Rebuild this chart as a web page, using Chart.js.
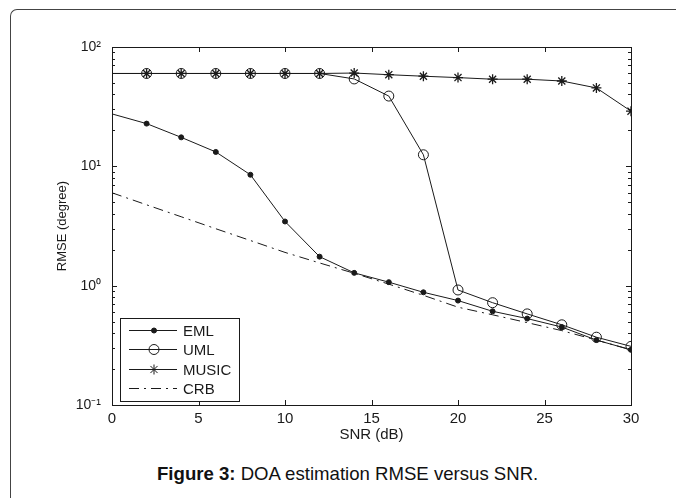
<!DOCTYPE html>
<html>
<head>
<meta charset="utf-8">
<script src="https://cdn.jsdelivr.net/npm/chart.js@4.4.1/dist/chart.umd.min.js"></script>
<style>
  html, body { margin: 0; padding: 0; background: #fff; }
  #wrap { position: relative; width: 676px; height: 498px; overflow: hidden; }
  #frame {
    position: absolute; left: 10px; top: 9px; width: 700px; height: 520px;
    border-left: 1.5px solid #444; border-top: 1.5px solid #444;
    border-top-left-radius: 7px;
  }
  #chart1 { position: absolute; left: 0; top: 0; }
  #caption {
    position: absolute; left: 157px; top: 463px; white-space: nowrap;
    font-family: 'Liberation Sans', Arial, sans-serif; font-size: 18.6px; color: #111;
  }
</style>
</head>
<body>
<div id="wrap">
  <div id="frame"></div>
  <canvas id="chart1" width="676" height="455"></canvas>
  <div id="caption"><b>Figure 3:</b> DOA estimation RMSE versus SNR.</div>
</div>
<script>
/* ===============================
   data
================================ */
const snr = [0, 2, 4, 6, 8, 10, 12, 14, 16, 18, 20, 22, 24, 26, 28, 30];
const eml = [27.5, 22.8, 17.5, 13.2, 8.5, 3.45, 1.75, 1.28, 1.07, 0.88, 0.75, 0.61, 0.53, 0.45, 0.35, 0.29];
const uml = [60, 60, 60, 60, 60, 60, 60, 54, 38.8, 12.5, 0.92, 0.72, 0.58, 0.47, 0.37, 0.31];
const music = [60, 60, 60, 60, 60, 60, 60, 60.5, 58.6, 56.9, 55.4, 53.7, 53.7, 51.9, 45.4, 29.0];
const crb = [6.0, 4.76, 3.78, 3.0, 2.39, 1.9, 1.55, 1.27, 1.03, 0.83, 0.66, 0.57, 0.49, 0.42, 0.35, 0.29];

const xTicks = [0, 5, 10, 15, 20, 25, 30];
const yTicks = [0.1, 1, 10, 100];
const yTickLabels = ['10\u207B\u00B9', '10\u2070', '10\u00B9', '10\u00B2'];

const FONT = "'Liberation Sans', Arial, sans-serif";
const INK = '#1a1a1a';

const pts = arr => arr.map((v, i) => ({ x: snr[i], y: v }));
const skipFirst = r => c => (c.dataIndex === 0 ? 0 : r);

/* ===============================
   axes box + inner ticks (matlab style)
================================ */
const boxTicks = {
  id: 'boxTicks',
  beforeDatasetsDraw(chart) {
    const { ctx, chartArea: a, scales: { x, y } } = chart;
    ctx.save();
    ctx.strokeStyle = INK;
    ctx.lineWidth = 1;
    ctx.strokeRect(Math.round(a.left) + 0.5, Math.round(a.top) + 0.5, Math.round(a.width), Math.round(a.height));
    ctx.beginPath();
    xTicks.forEach(v => {
      const px = Math.round(x.getPixelForValue(v)) + 0.5;
      ctx.moveTo(px, a.bottom); ctx.lineTo(px, a.bottom - 5);
      ctx.moveTo(px, a.top); ctx.lineTo(px, a.top + 5);
    });
    yTicks.forEach((d, i) => {
      const py = Math.round(y.getPixelForValue(d)) + 0.5;
      ctx.moveTo(a.left, py); ctx.lineTo(a.left + 5, py);
      ctx.moveTo(a.right, py); ctx.lineTo(a.right - 5, py);
      if (i === yTicks.length - 1) return;
      for (let m = 2; m <= 9; m++) {
        const pm = Math.round(y.getPixelForValue(d * m)) + 0.5;
        ctx.moveTo(a.left, pm); ctx.lineTo(a.left + 3, pm);
        ctx.moveTo(a.right, pm); ctx.lineTo(a.right - 3, pm);
      }
    });
    ctx.stroke();
    ctx.restore();
  }
};

/* ===============================
   legend inside the axes, bottom left
================================ */
const boxLegend = {
  id: 'boxLegend',
  afterDraw(chart) {
    const { ctx, chartArea: a } = chart;
    const bx = a.left + 8, bw = 119, bh = 83;
    const by = a.bottom - 4 - bh;
    ctx.save();
    ctx.fillStyle = '#fff';
    ctx.fillRect(bx, by, bw, bh);
    ctx.strokeStyle = INK;
    ctx.lineWidth = 1;
    ctx.strokeRect(Math.round(bx) + 0.5, Math.round(by) + 0.5, bw, bh);
    chart.data.datasets.forEach((ds, i) => {
      const ly = Math.round(by + 12 + i * 19.3) + 0.5;
      ctx.strokeStyle = ds.borderColor;
      ctx.lineWidth = ds.borderWidth;
      ctx.setLineDash(ds.borderDash || []);
      ctx.beginPath();
      ctx.moveTo(bx + 9, ly); ctx.lineTo(bx + 57, ly);
      ctx.stroke();
      ctx.setLineDash([]);
      if (ds.legendRadius) {
        ctx.fillStyle = ds.pointBackgroundColor;
        ctx.strokeStyle = ds.pointBorderColor;
        Chart.helpers.drawPoint(ctx, { pointStyle: ds.pointStyle, radius: ds.legendRadius, borderWidth: 1, rotation: 0 }, bx + 34, ly);
      }
      ctx.fillStyle = INK;
      ctx.font = '15px ' + FONT;
      ctx.textBaseline = 'middle';
      ctx.fillText(ds.label, bx + 63, ly + 1);
    });
    ctx.restore();
  }
};

/* ===============================
   chart
================================ */
const ctx1 = document.getElementById('chart1').getContext('2d');

new Chart(ctx1, {
  type: 'line',
  data: {
    datasets: [
      {
        label: 'EML', data: pts(eml),
        borderColor: INK, borderWidth: 1, backgroundColor: INK,
        pointStyle: 'circle', pointRadius: skipFirst(2.5), legendRadius: 2.5,
        pointBackgroundColor: INK, pointBorderColor: INK, pointBorderWidth: 1
      },
      {
        label: 'UML', data: pts(uml),
        borderColor: INK, borderWidth: 1,
        pointStyle: 'circle', pointRadius: skipFirst(5), legendRadius: 5,
        pointBackgroundColor: 'rgba(0,0,0,0)', pointBorderColor: INK, pointBorderWidth: 1
      },
      {
        label: 'MUSIC', data: pts(music),
        borderColor: INK, borderWidth: 1,
        pointStyle: 'star', pointRadius: skipFirst(5), legendRadius: 5,
        pointBackgroundColor: INK, pointBorderColor: INK, pointBorderWidth: 1.3
      },
      {
        label: 'CRB', data: pts(crb),
        borderColor: INK, borderWidth: 1, borderDash: [10, 5, 2, 5],
        pointRadius: 0, legendRadius: 0
      }
    ]
  },
  options: {
    responsive: false,
    animation: false,
    layout: { padding: { top: 47, right: 45, left: 0, bottom: 0 } },
    elements: { line: { tension: 0, fill: false } },
    plugins: {
      legend: { display: false },
      tooltip: { enabled: false }
    },
    scales: {
      x: {
        type: 'linear', min: 0, max: 30,
        afterFit: s => { s.height = 50; },
        afterBuildTicks: s => { s.ticks = xTicks.map(v => ({ value: v })); },
        grid: { display: false, drawTicks: false },
        border: { display: false },
        ticks: { color: INK, padding: 5, font: { family: FONT, size: 15 } },
        title: {
          display: true, text: 'SNR (dB)', color: INK,
          font: { family: FONT, size: 15 }, padding: { top: 0, bottom: 11 }
        }
      },
      y: {
        type: 'logarithmic', min: 0.1, max: 100,
        afterFit: s => { s.width = 112; },
        afterBuildTicks: s => { s.ticks = yTicks.map(v => ({ value: v })); },
        grid: { display: false, drawTicks: false },
        border: { display: false },
        ticks: {
          color: INK, padding: 11, font: { family: FONT, size: 14 },
          callback: v => yTickLabels[yTicks.indexOf(v)]
        },
        title: {
          display: true, text: 'RMSE (degree)', color: INK,
          font: { family: FONT, size: 13 }, padding: { top: 55, bottom: 0 }
        }
      }
    }
  },
  plugins: [boxTicks, boxLegend]
});
</script>
</body>
</html>
